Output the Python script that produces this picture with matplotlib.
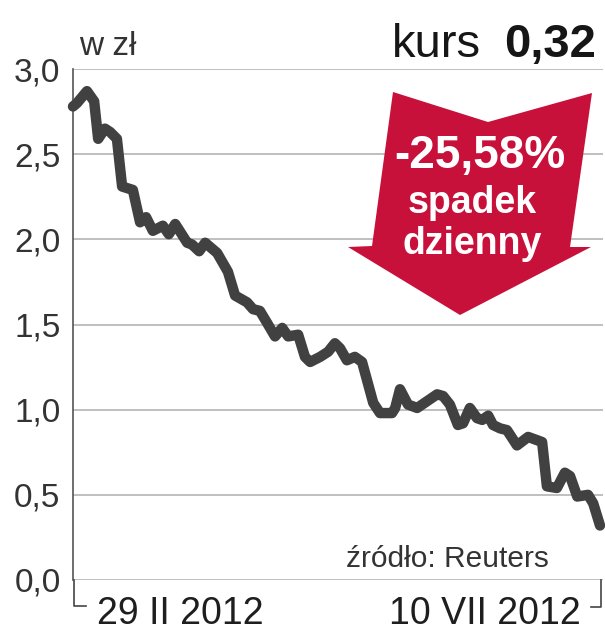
import numpy as np
import matplotlib
matplotlib.use('Agg')
import matplotlib.pyplot as plt
from matplotlib.patches import Polygon
from matplotlib.lines import Line2D

# ── data (days since 29 II 2012, price in zł) ──
days = [0, 1.0, 3.5, 5.3, 6.3, 8.0, 9.3, 11.0, 12.3, 15.0,
        16.8, 18.3, 20.0, 22.5, 24.0, 25.6, 28.6, 29.8, 31.6, 33.1,
        36.1, 38.8, 40.6, 43.6, 45.1, 46.8, 48.6, 50.6, 52.4, 53.9,
        56.4, 58.1, 59.4, 61.9, 63.9, 65.6, 66.9, 68.6, 70.6, 72.4,
        75.2, 76.9, 79.9, 80.7, 81.9, 83.9, 86.2, 88.7, 91.2, 92.7,
        94.4, 96.4, 97.7, 99.4, 101.2, 102.5, 104.0, 105.2, 107.0, 108.7,
        111.2, 114.0, 117.5, 118.7, 121.2, 123.2, 124.5, 126.3, 129.0, 130.3,
        132.0]
price = [2.78, 2.80, 2.87, 2.81, 2.59, 2.65, 2.63, 2.59, 2.31, 2.29,
         2.10, 2.13, 2.05, 2.08, 2.03, 2.09, 1.98, 1.97, 1.93, 1.98,
         1.92, 1.81, 1.67, 1.63, 1.59, 1.58, 1.51, 1.43, 1.48, 1.43,
         1.44, 1.31, 1.28, 1.31, 1.34, 1.39, 1.36, 1.29, 1.31, 1.28,
         1.04, 0.98, 0.98, 1.01, 1.12, 1.03, 1.01, 1.05, 1.09, 1.08,
         1.03, 0.91, 0.92, 1.01, 0.95, 0.94, 0.965, 0.91, 0.89, 0.88,
         0.79, 0.84, 0.81, 0.55, 0.54, 0.63, 0.61, 0.49, 0.50, 0.45,
         0.32]
y_ticks = [0.0, 0.5, 1.0, 1.5, 2.0, 2.5, 3.0]
y_tick_labels = ['0,0', '0,5', '1,0', '1,5', '2,0', '2,5', '3,0']
date_start, date_end = '29 II 2012', '10 VII 2012'
kurs_label, kurs_value = 'kurs', '0,32'
drop_pct, drop_l1, drop_l2 = '-25,58%', 'spadek', 'dzienny'

# ── style ──
W, H = 605, 640
LINE_C = '#414141'
GRID_C = '#b4b4b4'
RED = '#c8113a'
TXT = '#1e1e1e'
FONT = 'Liberation Sans'
NARROW = ['Liberation Sans Narrow', 'Liberation Sans']


def px(x, y):
    """pixel (top-left origin) -> figure fraction"""
    return x / W, 1 - y / H


fig = plt.figure(figsize=(W / 100, H / 100), dpi=100)
fig.patch.set_facecolor('white')
ax = fig.add_axes([73 / W, 1 - 580 / H, 530 / W, 511 / H])

ax.set_xlim(0, 132 * 530 / 527)
ax.set_ylim(0, 3.0)

for v in y_ticks:
    ax.axhline(v, color=GRID_C, lw=1.2, zorder=1)

ax.plot(days, price, color=LINE_C, lw=7.5, solid_joinstyle='round',
        solid_capstyle='round', clip_on=False, zorder=4)

for s in ['top', 'right', 'bottom']:
    ax.spines[s].set_visible(False)
ax.spines['left'].set_color('#555555')
ax.spines['left'].set_linewidth(1.2)
ax.set_xticks([])
ax.set_yticks(y_ticks)
ax.set_yticklabels(y_tick_labels, family=NARROW, fontsize=24, color='#333333')
ax.tick_params(axis='y', length=0, pad=9)

# date brackets under the axis
for xs, ys in [([74, 74, 86], [580, 606, 606]), ([601, 601, 591], [580, 607, 607])]:
    fx = [px(x, 0)[0] for x in xs]
    fy = [px(0, y)[1] for y in ys]
    fig.add_artist(Line2D(fx, fy, color='#444444', lw=1.2))

fig.text(*px(97, 624), date_start, family=FONT, fontsize=27, color=TXT,
         ha='left', va='baseline')
fig.text(*px(581, 624), date_end, family=FONT, fontsize=27, color=TXT,
         ha='right', va='baseline')
fig.text(*px(549, 567), 'źródło: Reuters', family=FONT, fontsize=21.5,
         color='#333333', ha='right', va='baseline')

# header texts
fig.text(*px(79, 55), 'w zł', family=FONT, fontsize=24, color='#333333',
         ha='left', va='baseline')
fig.text(*px(596, 57), kurs_value, family=FONT, fontsize=34, weight='bold',
         color='#161616', ha='right', va='baseline')
fig.text(*px(481, 57), kurs_label, family=NARROW, fontsize=34,
         color='#161616', ha='right', va='baseline')

# red arrow
arrow_px = [(393, 92), (488, 122), (592, 93), (570, 247), (591, 247),
            (460, 315), (348, 247), (372, 246)]
arrow = Polygon([px(x, y) for x, y in arrow_px], closed=True,
                facecolor=RED, edgecolor='none', transform=fig.transFigure,
                zorder=5)
fig.add_artist(arrow)

fig.text(*px(480, 168), drop_pct, family=FONT, fontsize=33, weight='bold',
         color='white', ha='center', va='baseline', zorder=6)
fig.text(*px(472, 213), drop_l1, family=FONT, fontsize=27, weight='bold',
         color='white', ha='center', va='baseline', zorder=6)
fig.text(*px(472, 254), drop_l2, family=FONT, fontsize=27, weight='bold',
         color='white', ha='center', va='baseline', zorder=6)

fig.savefig('out.png', dpi=100, facecolor='white')
plt.close()
